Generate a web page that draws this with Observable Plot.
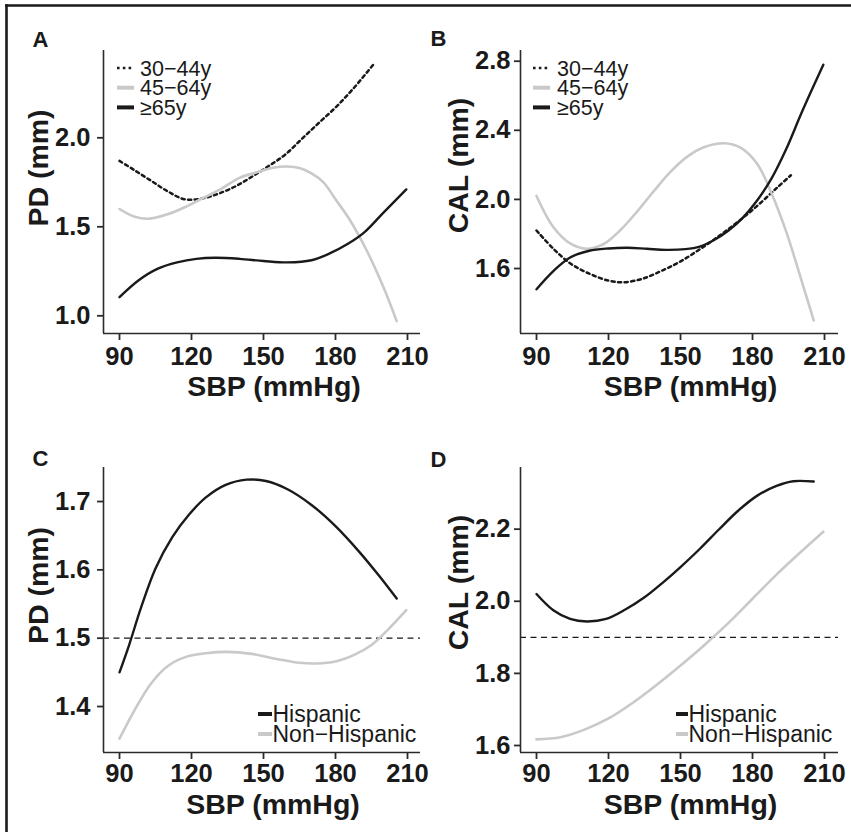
<!DOCTYPE html>
<html><head><meta charset="utf-8">
<script src="https://cdn.jsdelivr.net/npm/d3@7"></script>
<script src="https://cdn.jsdelivr.net/npm/@observablehq/plot@0.6"></script>
<style>
body{margin:0;background:#fff;}
#wrap{position:relative;width:851px;height:832px;overflow:hidden;font-family:"Liberation Sans",Arial,sans-serif;background:#fff;}
#wrap svg{position:absolute;}
</style></head><body><div id="wrap"></div>
<script>
// ---------- data ----------
const xTicks = [90, 120, 150, 180, 210];
const ageLabels = ["30\u221244y", "45\u221264y", "\u226565y"];
const ethLabels = ["Hispanic", "Non\u2212Hispanic"];

// Panel A: PD by age
const sbpA_30 = [90, 96, 103, 110, 117, 124, 131, 138, 145, 152, 159, 166, 173, 180, 187, 196];
const pdA_30  = [1.87, 1.82, 1.76, 1.70, 1.655, 1.658, 1.685, 1.725, 1.78, 1.84, 1.905, 1.994, 2.083, 2.17, 2.27, 2.415];
const sbpA_45 = [90, 96, 102, 110, 118, 125, 132, 140, 147, 154, 160, 165, 170, 175, 180, 186, 193, 200, 205.5];
const pdA_45  = [1.60, 1.558, 1.545, 1.57, 1.615, 1.663, 1.71, 1.775, 1.805, 1.832, 1.839, 1.83, 1.80, 1.75, 1.655, 1.538, 1.367, 1.16, 0.97];
const sbpA_65 = [90, 98, 106, 114, 122, 130, 140, 150, 160, 170, 178, 185, 192, 200, 209.5];
const pdA_65  = [1.105, 1.20, 1.265, 1.30, 1.32, 1.326, 1.32, 1.308, 1.30, 1.312, 1.353, 1.403, 1.469, 1.58, 1.71];
const pdTicksA = [1.0, 1.5, 2.0];

// Panel B: CAL by age
const sbpB_30 = [90, 97, 104, 112, 120, 126, 134, 142, 150, 158, 166, 174, 182, 190, 196];
const calB_30 = [1.82, 1.715, 1.63, 1.57, 1.53, 1.52, 1.54, 1.586, 1.641, 1.711, 1.788, 1.871, 1.963, 2.065, 2.14];
const sbpB_45 = [90, 97, 104, 111, 118, 125, 132, 139, 146, 153, 160, 168, 175, 182, 188, 194, 200, 205.5];
const calB_45 = [2.02, 1.84, 1.745, 1.714, 1.742, 1.823, 1.931, 2.05, 2.162, 2.249, 2.303, 2.325, 2.30, 2.205, 2.033, 1.815, 1.55, 1.30];
const sbpB_65 = [90, 97, 104, 112, 120, 128, 136, 144, 152, 158, 164, 170, 176, 182, 188, 194, 200, 205, 209.5];
const calB_65 = [1.48, 1.585, 1.664, 1.703, 1.716, 1.72, 1.714, 1.708, 1.712, 1.727, 1.765, 1.82, 1.895, 1.995, 2.123, 2.29, 2.487, 2.643, 2.78];
const calTicksB = [1.6, 2.0, 2.4, 2.8];

// Panel C: PD by ethnicity
const sbpC_his = [90, 94, 99, 105, 112, 119, 126, 134, 143, 151, 160, 170, 180, 190, 198, 205.5];
const pdC_his  = [1.45, 1.49, 1.545, 1.602, 1.648, 1.681, 1.706, 1.724, 1.732, 1.730, 1.718, 1.695, 1.664, 1.626, 1.592, 1.558];
const sbpC_non = [90, 96, 103, 110, 118, 126, 135, 145, 155, 165, 172, 180, 188, 195, 202, 209.5];
const pdC_non  = [1.353, 1.393, 1.433, 1.459, 1.473, 1.478, 1.48, 1.477, 1.47, 1.464, 1.463, 1.466, 1.476, 1.49, 1.513, 1.541];
const pdTicksC = [1.4, 1.5, 1.6, 1.7];
const pdRefC = [1.5];

// Panel D: CAL by ethnicity
const sbpD_his = [90, 97, 104, 111, 119, 127, 135, 143, 150, 158, 166, 174, 182, 190, 197, 205.5];
const calD_his = [2.02, 1.975, 1.951, 1.944, 1.951, 1.977, 2.011, 2.054, 2.095, 2.145, 2.199, 2.251, 2.293, 2.32, 2.333, 2.332];
const sbpD_non = [90, 100, 110, 120, 130, 140, 150, 160, 170, 180, 190, 200, 209.5];
const calD_non = [1.617, 1.623, 1.644, 1.675, 1.718, 1.768, 1.822, 1.879, 1.94, 2.007, 2.074, 2.136, 2.193];
const calTicksD = [1.6, 1.8, 2.0, 2.2];
const calRefD = [1.9];

// ---------- styles ----------
const INK = "#1a1a1a", GRAY = "#c9c9c9", AXIS = "#2b2b2b";
const FONT = "'Liberation Sans', Arial, sans-serif";
const lineStyles = {
  dot:   {stroke: INK, strokeWidth: 2.5, strokeDasharray: "3.2,3.4"},
  gray:  {stroke: GRAY, strokeWidth: 2.6},
  black: {stroke: INK, strokeWidth: 2.4}
};
const pts = (xs, ys) => xs.map((x, i) => ({x, y: ys[i]}));

const panels = [
  {letter: "A", left: 0, top: 0, width: 425, height: 420, mL: 103, mR: 5, mT: 50, mB: 87,
   xDom: [83.33, 215.42], yDom: [0.9006, 2.4904], yTicks: pdTicksA, yLabel: "PD (mm)",
   labelX: 47, labelY: 167.5, letterX: 32, letterY: 46, xLabDx: 12, xLabDy: 62.5, tickDy: 13, yTickDx: -13,
   series: [[sbpA_30, pdA_30, "dot"], [sbpA_45, pdA_45, "gray"], [sbpA_65, pdA_65, "black"]], ref: null},
  {letter: "B", left: 425, top: 0, width: 426, height: 420, mL: 95, mR: 13, mT: 50, mB: 87,
   xDom: [83.33, 215.83], yDom: [1.2238, 2.862], yTicks: calTicksB, yLabel: "CAL (mm)",
   labelX: 467.5, labelY: 165, letterX: 430, letterY: 45, xLabDx: 11, xLabDy: 62.5, tickDy: 13, yTickDx: -10,
   series: [[sbpB_30, calB_30, "dot"], [sbpB_45, calB_45, "gray"], [sbpB_65, calB_65, "black"]], ref: null},
  {letter: "C", left: 0, top: 420, width: 425, height: 412, mL: 103, mR: 5, mT: 47, mB: 80,
   xDom: [83.33, 215.42], yDom: [1.3327, 1.7498], yTicks: pdTicksC, yLabel: "PD (mm)",
   labelX: 47, labelY: 585, letterX: 32, letterY: 465, xLabDx: 11, xLabDy: 61, tickDy: 11, yTickDx: -13,
   series: [[sbpC_his, pdC_his, "black"], [sbpC_non, pdC_non, "gray"]], ref: pdRefC},
  {letter: "D", left: 425, top: 420, width: 426, height: 412, mL: 95, mR: 13, mT: 47, mB: 80,
   xDom: [83.33, 215.83], yDom: [1.5806, 2.371], yTicks: calTicksD, yLabel: "CAL (mm)",
   labelX: 467.5, labelY: 582, letterX: 430, letterY: 466, xLabDx: 11, xLabDy: 61, tickDy: 11, yTickDx: -10,
   series: [[sbpD_his, calD_his, "black"], [sbpD_non, calD_non, "gray"]], ref: calRefD}
];

const wrap = document.getElementById("wrap");
const fmt = d3.format(".1f");
const bold = {fontWeight: "bold", fill: INK, fontFamily: FONT};

for (const p of panels) {
  const marks = [];
  if (p.ref) marks.push(Plot.ruleY(p.ref, {stroke: INK, strokeWidth: 1.3, strokeDasharray: "6,4.5"}));
  for (const [xs, ys, st] of p.series) {
    marks.push(Plot.line(pts(xs, ys), {x: "x", y: "y", curve: "catmull-rom", ...lineStyles[st]}));
  }
  marks.push(
    // axis lines
    Plot.ruleX([p.xDom[0]], {stroke: AXIS, strokeWidth: 1.6}),
    Plot.ruleY([p.yDom[0]], {stroke: AXIS, strokeWidth: 1.6}),
    // tick marks
    Plot.axisX(xTicks, {tickSize: 7, stroke: AXIS, strokeWidth: 1.8, fill: "none", label: null}),
    Plot.axisY(p.yTicks, {tickSize: 6, stroke: AXIS, strokeWidth: 1.8, fill: "none", label: null}),
    // tick labels
    Plot.text(xTicks, {x: d => d, text: d => String(d), frameAnchor: "bottom", dy: p.tickDy,
      lineAnchor: "top", textAnchor: "middle", fontSize: 25.5, ...bold}),
    Plot.text(p.yTicks, {y: d => d, text: d => fmt(d), frameAnchor: "left", dx: p.yTickDx,
      lineAnchor: "middle", textAnchor: "end", fontSize: 25.5, ...bold}),
    // axis titles
    Plot.text(["SBP (mmHg)"], {text: d => d, frameAnchor: "bottom", dx: p.xLabDx, dy: p.xLabDy,
      lineAnchor: "bottom", fontSize: 28.5, ...bold}),
    Plot.text([p.yLabel], {text: d => d, frameAnchor: "top-left", dx: p.labelX - p.left - p.mL,
      dy: p.labelY - p.top - p.mT, rotate: -90, textAnchor: "middle", lineAnchor: "bottom",
      fontSize: 28.5, ...bold}),
    // panel letter
    Plot.text([p.letter], {text: d => d, frameAnchor: "top-left", dx: p.letterX - p.left - p.mL,
      dy: p.letterY - p.top - p.mT, textAnchor: "start", lineAnchor: "bottom",
      fontSize: 22, ...bold})
  );
  const svg = Plot.plot({
    width: p.width, height: p.height,
    marginLeft: p.mL, marginRight: p.mR, marginTop: p.mT, marginBottom: p.mB,
    x: {domain: p.xDom},
    y: {domain: p.yDom},
    style: {fontFamily: FONT, fontSize: "25px", color: INK, background: "transparent", overflow: "visible"},
    marks
  });
  svg.style.left = p.left + "px";
  svg.style.top = p.top + "px";
  wrap.appendChild(svg);
}

// ---------- legends and figure border ----------
const legends = [
  {x1: 117, x2: 134, tx: 140, y0: 68, step: 19.7, labels: ageLabels, styles: ["dot", "gray", "black"], fs: 21.5},
  {x1: 533, x2: 550, tx: 557, y0: 68, step: 19.7, labels: ageLabels, styles: ["dot", "gray", "black"], fs: 21.5},
  {x1: 258, x2: 272, tx: 272.5, y0: 714, step: 20, labels: ethLabels, styles: ["black", "gray"], fs: 23},
  {x1: 676, x2: 688, tx: 688.5, y0: 714, step: 20, labels: ethLabels, styles: ["black", "gray"], fs: 23}
];
const ov = d3.select(wrap).append("svg")
  .attr("width", 851).attr("height", 832).style("left", "0px").style("top", "0px")
  .style("font-family", FONT);
for (const L of legends) {
  L.styles.forEach((st, i) => {
    const y = L.y0 + i * L.step;
    ov.append("line").attr("x1", L.x1).attr("x2", L.x2).attr("y1", y).attr("y2", y)
      .attr("stroke", st === "gray" ? GRAY : INK)
      .attr("stroke-width", st === "dot" ? 2.4 : 4)
      .attr("stroke-dasharray", st === "dot" ? "2.6,3.2" : null);
  });
  const t = ov.append("text").attr("x", L.tx).attr("y", L.y0 + L.fs * 0.35)
    .attr("font-size", L.fs).attr("fill", INK);
  L.labels.forEach((lab, i) => {
    t.append("tspan").attr("x", L.tx).attr("dy", i === 0 ? 0 : L.step).text(lab);
  });
}
ov.append("line").attr("x1", 5).attr("x2", 851).attr("y1", 5.5).attr("y2", 5.5).attr("stroke", INK).attr("stroke-width", 2.6);
ov.append("line").attr("x1", 6.5).attr("x2", 6.5).attr("y1", 4.2).attr("y2", 832).attr("stroke", INK).attr("stroke-width", 2.6);
</script>
</body></html>
